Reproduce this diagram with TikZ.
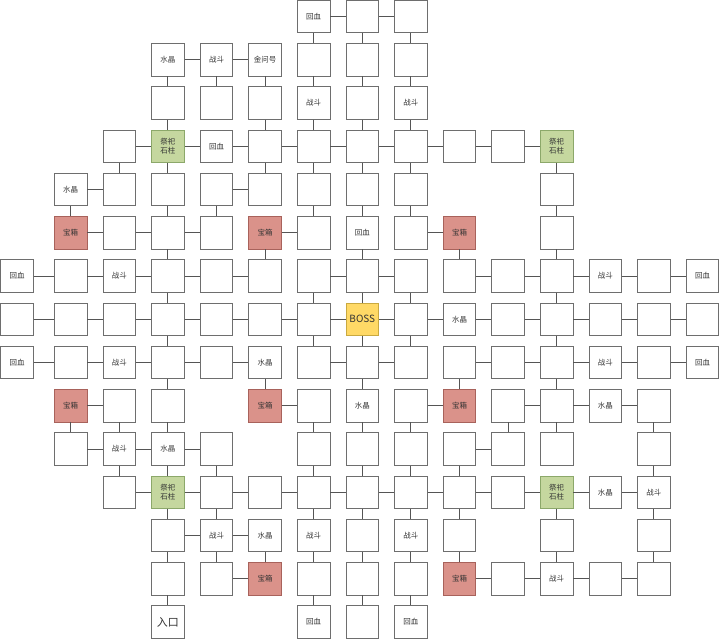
\documentclass[tikz,border=0pt]{standalone}
\usepackage{fontspec}
\newfontfamily\cjk{Noto Sans CJK SC}
\definecolor{bordergray}{HTML}{6E6E6E}
\definecolor{linkgray}{HTML}{555555}
\definecolor{redfill}{HTML}{DA928A}
\definecolor{redline}{HTML}{A8625B}
\definecolor{greenfill}{HTML}{C5D79F}
\definecolor{greenline}{HTML}{8CA86A}
\definecolor{yellowfill}{HTML}{FFD966}
\definecolor{yellowline}{HTML}{C9A940}
\newcommand{\bx}[4]{\node[box,#3] (c#1r#2) at ({ifthenelse(#1==0,17,70.7+48.6*(#1-1))},{16.5+43.25*#2}) {#4};}
\begin{document}
\begin{tikzpicture}[x=1bp,y=-1bp,
  box/.style={draw=bordergray,line width=0.9bp,fill=white,minimum width=32.5bp,minimum height=32.5bp,inner sep=0pt,align=center,font=\cjk\fontsize{7.5}{9.5}\selectfont,text=black!80},
  chest/.style={fill=redfill,draw=redline},
  pillar/.style={fill=greenfill,draw=greenline},
  boss/.style={fill=yellowfill,draw=yellowline,font=\cjk\fontsize{10}{12}\selectfont},
  entry/.style={font=\cjk\fontsize{11}{13}\selectfont},
  link/.style={draw=linkgray,line width=0.9bp}]
\useasboundingbox (0,0) rectangle (720,639);
% row 0
\bx{6}{0}{}{回血}\bx{7}{0}{}{}\bx{8}{0}{}{}
% row 1
\bx{3}{1}{}{水晶}\bx{4}{1}{}{战斗}\bx{5}{1}{}{金问号}\bx{6}{1}{}{}\bx{7}{1}{}{}\bx{8}{1}{}{}
% row 2
\bx{3}{2}{}{}\bx{4}{2}{}{}\bx{5}{2}{}{}\bx{6}{2}{}{战斗}\bx{7}{2}{}{}\bx{8}{2}{}{战斗}
% row 3
\bx{2}{3}{}{}\bx{3}{3}{pillar}{祭祀\\石柱}\bx{4}{3}{}{回血}\bx{5}{3}{}{}\bx{6}{3}{}{}\bx{7}{3}{}{}\bx{8}{3}{}{}\bx{9}{3}{}{}\bx{10}{3}{}{}\bx{11}{3}{pillar}{祭祀\\石柱}
% row 4
\bx{1}{4}{}{水晶}\bx{2}{4}{}{}\bx{3}{4}{}{}\bx{4}{4}{}{}\bx{5}{4}{}{}\bx{6}{4}{}{}\bx{7}{4}{}{}\bx{8}{4}{}{}\bx{11}{4}{}{}
% row 5
\bx{1}{5}{chest}{宝箱}\bx{2}{5}{}{}\bx{3}{5}{}{}\bx{4}{5}{}{}\bx{5}{5}{chest}{宝箱}\bx{6}{5}{}{}\bx{7}{5}{}{回血}\bx{8}{5}{}{}\bx{9}{5}{chest}{宝箱}\bx{11}{5}{}{}
% row 6
\bx{0}{6}{}{回血}\bx{1}{6}{}{}\bx{2}{6}{}{战斗}\bx{3}{6}{}{}\bx{4}{6}{}{}\bx{5}{6}{}{}\bx{6}{6}{}{}\bx{7}{6}{}{}\bx{8}{6}{}{}\bx{9}{6}{}{}\bx{10}{6}{}{}\bx{11}{6}{}{}\bx{12}{6}{}{战斗}\bx{13}{6}{}{}\bx{14}{6}{}{回血}
% row 7
\bx{0}{7}{}{}\bx{1}{7}{}{}\bx{2}{7}{}{}\bx{3}{7}{}{}\bx{4}{7}{}{}\bx{5}{7}{}{}\bx{6}{7}{}{}\bx{7}{7}{boss}{BOSS}\bx{8}{7}{}{}\bx{9}{7}{}{水晶}\bx{10}{7}{}{}\bx{11}{7}{}{}\bx{12}{7}{}{}\bx{13}{7}{}{}\bx{14}{7}{}{}
% row 8
\bx{0}{8}{}{回血}\bx{1}{8}{}{}\bx{2}{8}{}{战斗}\bx{3}{8}{}{}\bx{4}{8}{}{}\bx{5}{8}{}{水晶}\bx{6}{8}{}{}\bx{7}{8}{}{}\bx{8}{8}{}{}\bx{9}{8}{}{}\bx{10}{8}{}{}\bx{11}{8}{}{}\bx{12}{8}{}{战斗}\bx{13}{8}{}{}\bx{14}{8}{}{回血}
% row 9
\bx{1}{9}{chest}{宝箱}\bx{2}{9}{}{}\bx{3}{9}{}{}\bx{5}{9}{chest}{宝箱}\bx{6}{9}{}{}\bx{7}{9}{}{水晶}\bx{8}{9}{}{}\bx{9}{9}{chest}{宝箱}\bx{10}{9}{}{}\bx{11}{9}{}{}\bx{12}{9}{}{水晶}\bx{13}{9}{}{}
% row 10
\bx{1}{10}{}{}\bx{2}{10}{}{战斗}\bx{3}{10}{}{水晶}\bx{4}{10}{}{}\bx{6}{10}{}{}\bx{7}{10}{}{}\bx{8}{10}{}{}\bx{9}{10}{}{}\bx{10}{10}{}{}\bx{11}{10}{}{}\bx{13}{10}{}{}
% row 11
\bx{2}{11}{}{}\bx{3}{11}{pillar}{祭祀\\石柱}\bx{4}{11}{}{}\bx{5}{11}{}{}\bx{6}{11}{}{}\bx{7}{11}{}{}\bx{8}{11}{}{}\bx{9}{11}{}{}\bx{10}{11}{}{}\bx{11}{11}{pillar}{祭祀\\石柱}\bx{12}{11}{}{水晶}\bx{13}{11}{}{战斗}
% row 12
\bx{3}{12}{}{}\bx{4}{12}{}{战斗}\bx{5}{12}{}{水晶}\bx{6}{12}{}{战斗}\bx{7}{12}{}{}\bx{8}{12}{}{战斗}\bx{9}{12}{}{}\bx{11}{12}{}{}\bx{13}{12}{}{}
% row 13
\bx{3}{13}{}{}\bx{4}{13}{}{}\bx{5}{13}{chest}{宝箱}\bx{6}{13}{}{}\bx{7}{13}{}{}\bx{8}{13}{}{}\bx{9}{13}{chest}{宝箱}\bx{10}{13}{}{}\bx{11}{13}{}{战斗}\bx{12}{13}{}{}\bx{13}{13}{}{}
% row 14
\bx{3}{14}{entry}{入口}\bx{6}{14}{}{回血}\bx{7}{14}{}{}\bx{8}{14}{}{回血}
% horizontal links: row/left column
\foreach \r/\a [evaluate=\a as \b using int(\a+1)] in {
  0/6,0/7,
  1/3,1/4,
  3/2,3/3,3/4,3/5,3/6,3/7,3/8,3/9,3/10,
  4/1,4/4,
  5/1,5/2,5/3,5/5,5/8,
  6/0,6/1,6/2,6/3,6/4,6/6,6/7,6/9,6/10,6/11,6/12,6/13,
  7/0,7/1,7/2,7/3,7/4,7/5,7/6,7/7,7/8,7/9,7/10,7/11,7/12,7/13,
  8/0,8/1,8/2,8/3,8/4,8/6,8/7,8/9,8/10,8/11,8/12,8/13,
  9/1,9/5,9/8,9/10,9/11,9/12,
  10/1,10/2,10/3,10/9,
  11/2,11/3,11/4,11/5,11/6,11/7,11/8,11/9,11/10,11/11,11/12,
  12/3,12/4,
  13/4,13/9,13/10,13/11,13/12}
  \draw[link] (c\a r\r) -- (c\b r\r);
% vertical links: upper row/column
\foreach \r/\c [evaluate=\r as \s using int(\r+1)] in {
  0/6,0/7,0/8,
  1/3,1/4,1/5,1/6,1/7,1/8,
  2/3,2/5,2/6,2/7,2/8,
  3/2,3/3,3/5,3/6,3/7,3/8,3/11,
  4/1,4/3,4/4,4/6,4/7,4/8,4/11,
  5/3,5/5,5/7,5/9,5/11,
  6/3,6/6,6/7,6/8,6/11,
  7/3,7/6,7/7,7/8,7/11,
  8/3,8/5,8/7,8/9,8/11,
  9/1,9/2,9/3,9/6,9/7,9/8,9/10,9/11,9/13,
  10/2,10/3,10/4,10/6,10/7,10/8,10/9,10/13,
  11/3,11/4,11/6,11/7,11/8,11/9,11/11,11/13,
  12/3,12/4,12/5,12/6,12/7,12/8,12/9,12/11,12/13,
  13/3,13/6,13/7,13/8}
  \draw[link] (c\c r\r) -- (c\c r\s);
\end{tikzpicture}
\end{document}
